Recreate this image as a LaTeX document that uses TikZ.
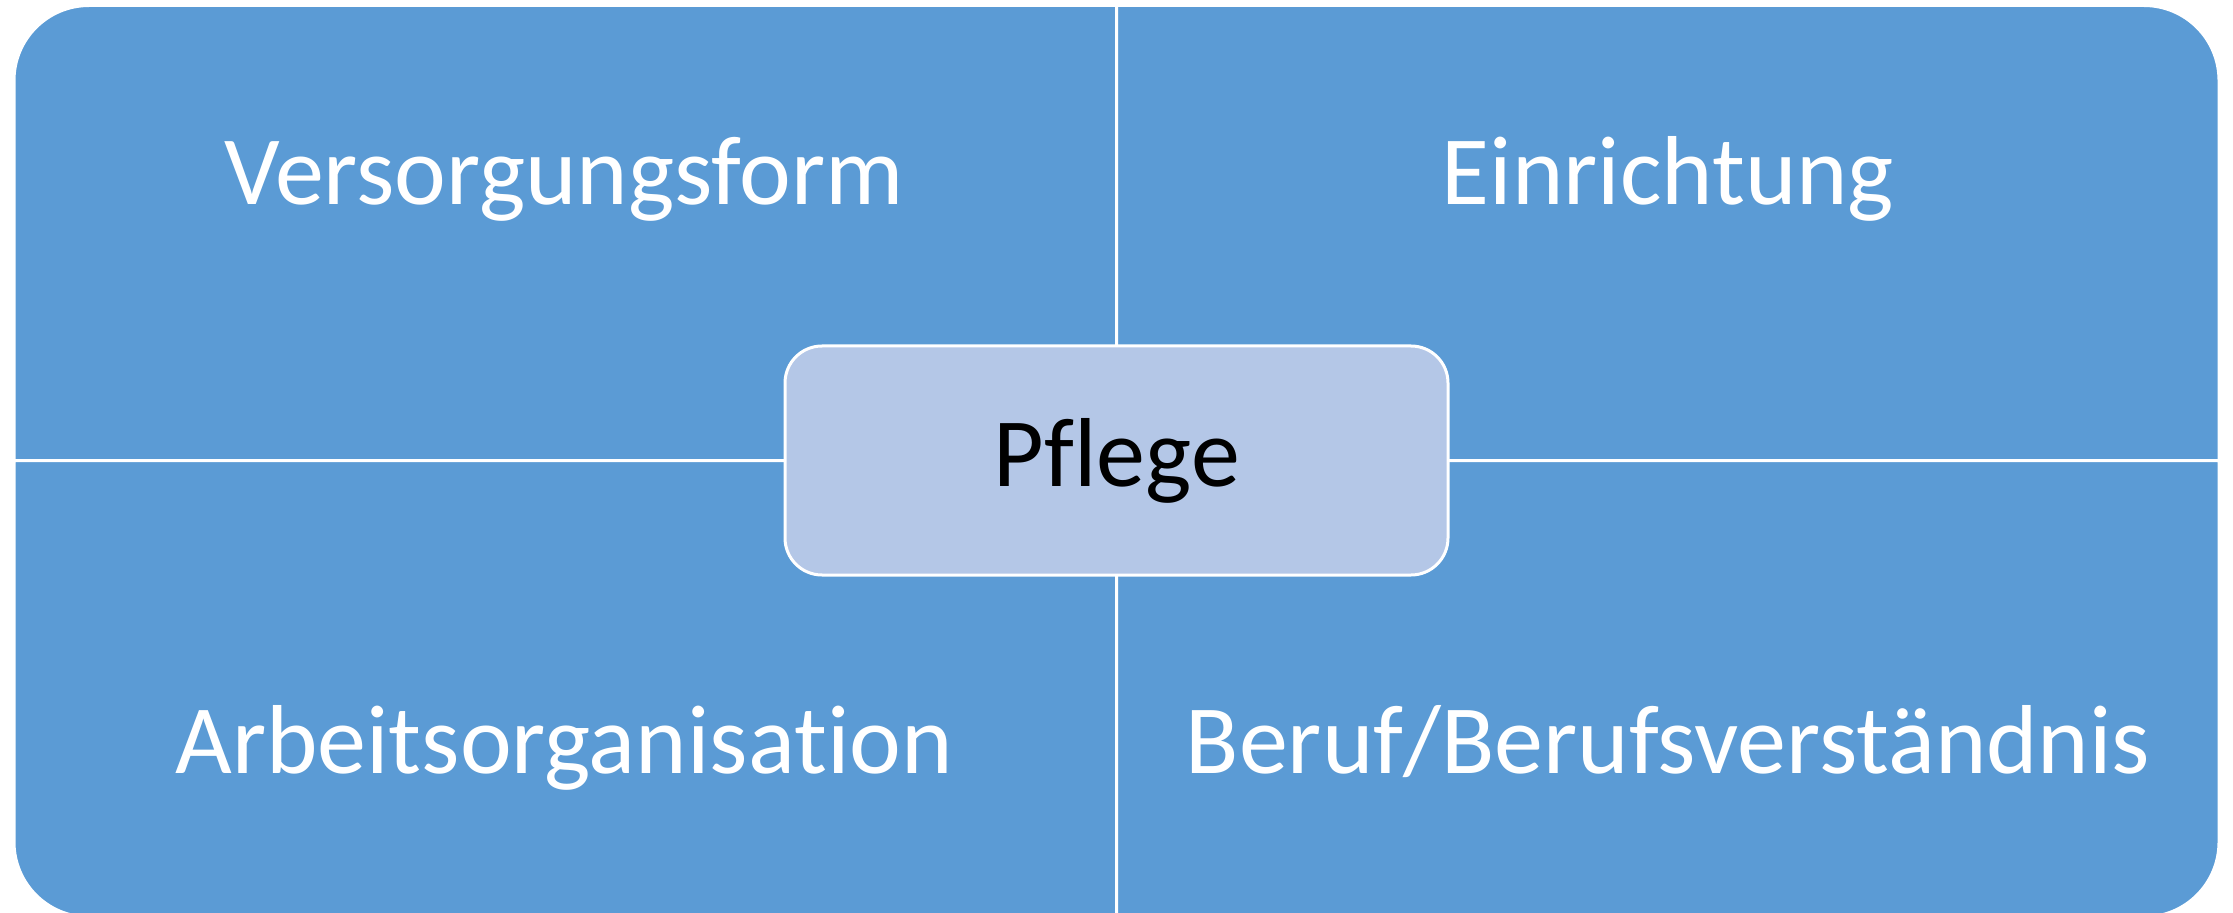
\documentclass[tikz,border=0pt]{standalone}
\usepackage{fontspec}
\setmainfont[Ligatures=CommonOff]{Carlito}
\definecolor{quadblue}{HTML}{5B9BD5}
\definecolor{centerblue}{HTML}{B4C7E7}
\tikzset{
  quad/.style={fill=quadblue, draw=white, line width=1.5pt, line join=miter},
  quadlabel/.style={anchor=base, text=white, font=\fontsize{49}{57}\selectfont, inner sep=0pt},
  centerbox/.style={rectangle, rounded corners=18.5pt, fill=centerblue, draw=white, line width=1.5pt,
    minimum width=331.5pt, minimum height=114.5pt, inner sep=0pt, text=black,
    font=\fontsize{49}{57}\selectfont}
}
\begin{document}
\begin{tikzpicture}[x=0.5pt,y=0.5pt]
\useasboundingbox (0,0) rectangle (2233,912);
\clip (0,0) rectangle (2233,912);
% quadrants
\path[quad] (1116.5,451.5) -- (14,451.5) -- (14,831.5)
  arc[start angle=180, end angle=90, radius=37.5pt] -- (1116.5,906.5) -- cycle;
\path[quad] (1116.5,451.5) -- (1116.5,906.5) -- (2144,906.5)
  arc[start angle=90, end angle=0, radius=37.5pt] -- (2219,451.5) -- cycle;
\path[quad] (1116.5,451.5) -- (14,451.5) -- (14,70)
  arc[start angle=180, end angle=270, radius=37.5pt] -- (1116.5,-5) -- cycle;
\path[quad] (1116.5,451.5) -- (2219,451.5) -- (2219,70)
  arc[start angle=0, end angle=-90, radius=37.5pt] -- (1116.5,-5) -- cycle;
% labels
\node[quadlabel] (versorgung) at (564,707) {Versorgungsform};
\node[quadlabel] (einrichtung) at (1668,707) {Einrichtung};
\node[quadlabel] (arbeit) at (564,139) {Arbeitsorganisation};
\node[quadlabel] (beruf) at (1668,139) {Beruf/Berufsverständnis};
% center
\node[centerbox] (pflege) at (1116.5,451.5) {\raisebox{-1.5pt}{Pflege}};
\end{tikzpicture}
\end{document}
